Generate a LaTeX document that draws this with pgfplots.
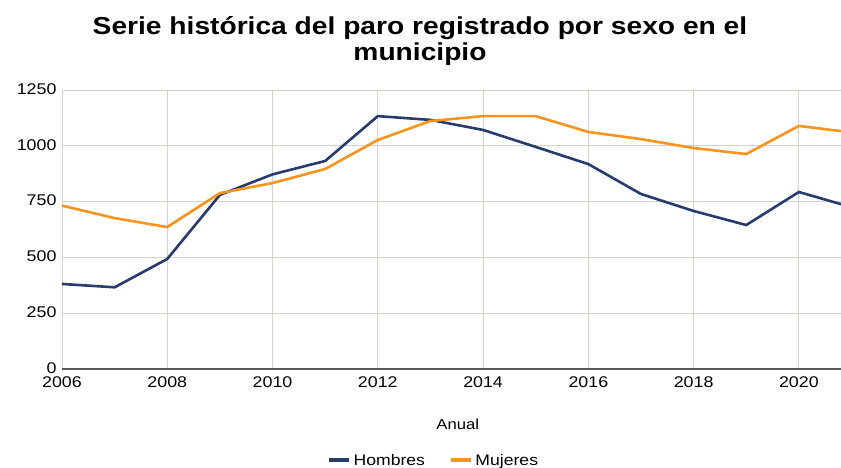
\documentclass[border=0pt]{standalone}
\usepackage{fontspec}
\setmainfont{Liberation Sans}[FakeStretch=1.15]
\usepackage{pgfplots}
\pgfplotsset{compat=1.18}
\definecolor{hom}{HTML}{283B6E}
\definecolor{muj}{HTML}{F7941D}
\definecolor{gridc}{HTML}{D6D2D0}
\begin{document}
\begin{tikzpicture}[x=1pt,y=1pt]
\useasboundingbox (0,0) rectangle (841,468);
\node[font=\bfseries\fontsize{24.5}{25.5}\selectfont, align=center] at (420,427) {Serie histórica del paro registrado por sexo en el\\municipio};
\begin{axis}[
  at={(62pt,99pt)}, anchor=origin,
  scale only axis, width=779pt, height=279pt,
  xmin=2006, xmax=2020.8, ymin=0, ymax=1250,
  xtick={2006,2008,...,2020}, ytick={0,250,...,1250},
  grid=major, major grid style={gridc, line width=0.9pt},
  axis lines*=left,
  y axis line style={draw=none},
  x axis line style={draw=black!65, line width=1.6pt},
  major tick length=0pt,
  tick label style={font=\fontsize{15.5}{17}\selectfont},
  /pgf/number format/assume math mode=true,
  /pgf/number format/1000 sep={},
  xticklabel style={yshift=-4pt},
  yticklabel style={xshift=-2pt, yshift=1pt},
  clip mode=individual,
  legend style={at={(0.477,-0.327)}, anchor=center, draw=none, legend columns=2,
    font=\fontsize{15.3}{17}\selectfont, /tikz/every even column/.append style={column sep=22pt}},
  legend image code/.code={\draw[line width=4.5pt] (0pt,0pt) -- (20pt,0pt);},
]
\addplot[hom, line width=2.6pt] coordinates {
(2006,381) (2007,366) (2008,493) (2009,780) (2010,872) (2011,932) (2012,1133) (2013,1116) (2014,1071) (2015,995) (2016,918) (2017,784) (2018,708) (2019,645) (2020,793) (2021,725)};
\addlegendentry{Hombres}
\addplot[muj, line width=2.6pt] coordinates {
(2006,732) (2007,676) (2008,636) (2009,788) (2010,833) (2011,896) (2012,1026) (2013,1111) (2014,1133) (2015,1133) (2016,1062) (2017,1030) (2018,990) (2019,963) (2020,1089) (2021,1060)};
\addlegendentry{Mujeres}
\node[font=\fontsize{14.5}{16}\selectfont] at (rel axis cs:0.508,-0.2) {Anual};
\end{axis}
\end{tikzpicture}
\end{document}
